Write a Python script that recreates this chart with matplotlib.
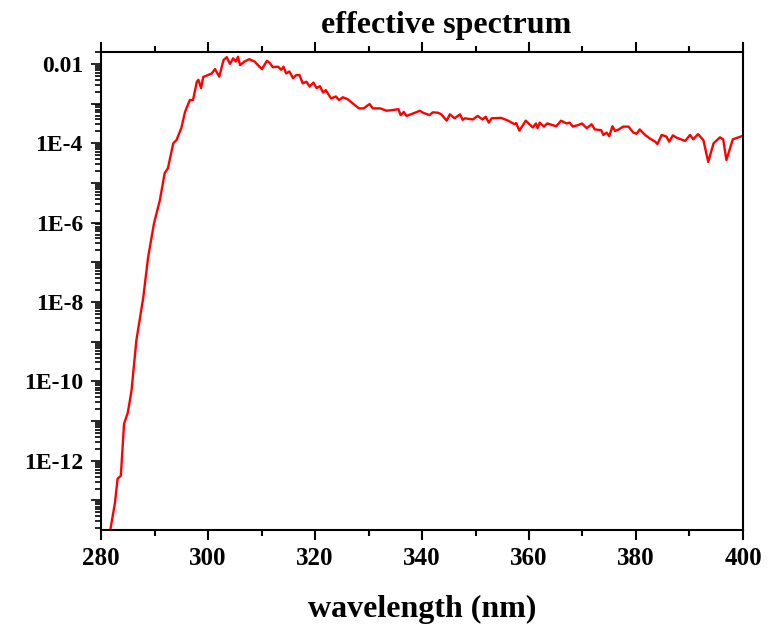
import numpy as np
import matplotlib
matplotlib.use("Agg")
import matplotlib.pyplot as plt
from matplotlib.ticker import LogLocator, FuncFormatter, MultipleLocator

# wavelength (nm) and log10 of the effective spectrum
wavelength = [281.7, 282.6, 283.1, 283.7, 284.3, 285.0, 285.7, 286.6, 287.9, 288.8,
              289.9, 291.0, 291.9, 292.5, 293.5, 294.1, 295.0, 295.7, 296.6, 297.2,
              297.9, 298.2, 298.7, 299.1, 300.7, 301.3, 302.1, 302.9, 303.5, 304.1,
              304.7, 305.2, 305.6, 306.0, 306.8, 307.7, 308.7, 309.6, 310.1, 311.0,
              311.5, 312.1, 313.1, 313.7, 314.1, 314.6, 315.2, 315.9, 316.5, 317.1,
              317.7, 318.4, 319.0, 319.7, 320.3, 320.9, 321.5, 322.0, 323.0, 323.9,
              324.5, 325.2, 326.1, 327.0, 328.2, 329.1, 330.2, 330.8, 332.2, 333.4,
              334.6, 335.6, 336.0, 336.6, 337.1, 338.3, 339.6, 340.2, 341.4, 342.0,
              343.0, 343.6, 344.6, 345.2, 346.1, 347.1, 347.6, 348.0, 349.5, 350.4,
              351.3, 351.9, 352.5, 353.0, 354.8, 356.1, 357.3, 357.6, 358.2, 359.4,
              360.7, 361.3, 361.6, 362.0, 362.8, 363.4, 365.1, 366.0, 367.0, 367.6,
              368.2, 369.2, 369.9, 370.8, 371.7, 372.3, 373.5, 373.9, 374.5, 375.0,
              375.6, 376.1, 376.8, 377.6, 378.6, 379.5, 380.1, 380.7, 381.7, 382.6,
              383.6, 384.0, 384.8, 385.7, 386.2, 386.9, 387.6, 389.2, 390.1, 390.7,
              391.6, 392.6, 393.5, 394.5, 395.7, 396.3, 396.9, 398.1, 399.8]
log_intensity = [-13.77, -13.06, -12.45, -12.38, -11.07, -10.79, -10.23, -8.97, -7.88, -6.87,
                 -6.02, -5.43, -4.75, -4.63, -4.00, -3.92, -3.62, -3.21, -2.91, -2.91,
                 -2.45, -2.40, -2.61, -2.33, -2.24, -2.13, -2.32, -1.90, -1.83, -2.00,
                 -1.86, -1.94, -1.82, -2.03, -1.94, -1.88, -1.94, -2.07, -2.13, -1.92,
                 -1.97, -2.08, -2.07, -2.15, -2.07, -2.24, -2.19, -2.36, -2.28, -2.28,
                 -2.49, -2.45, -2.57, -2.47, -2.61, -2.56, -2.72, -2.66, -2.87, -2.82,
                 -2.91, -2.84, -2.89, -2.99, -3.12, -3.12, -3.01, -3.12, -3.12, -3.18,
                 -3.16, -3.14, -3.29, -3.21, -3.31, -3.25, -3.18, -3.23, -3.29, -3.22,
                 -3.23, -3.27, -3.43, -3.27, -3.37, -3.27, -3.41, -3.37, -3.40, -3.31,
                 -3.40, -3.33, -3.48, -3.37, -3.36, -3.43, -3.52, -3.49, -3.68, -3.43,
                 -3.60, -3.50, -3.62, -3.48, -3.58, -3.50, -3.57, -3.43, -3.50, -3.48,
                 -3.58, -3.54, -3.50, -3.62, -3.52, -3.65, -3.67, -3.79, -3.73, -3.82,
                 -3.57, -3.69, -3.65, -3.58, -3.58, -3.73, -3.76, -3.65, -3.79, -3.88,
                 -3.96, -4.02, -3.79, -3.83, -3.96, -3.80, -3.86, -3.94, -3.79, -3.90,
                 -3.77, -3.92, -4.47, -4.00, -3.85, -3.90, -4.42, -3.90, -3.82]

x_ticks = [280, 300, 320, 340, 360, 380, 400]


def y_label(val, pos):
    exp = int(round(np.log10(val)))
    if exp % 2:
        return ""
    if exp == -2:
        return "0.01"
    return f"1E{exp}"


plt.rcParams['font.family'] = ['Liberation Serif', 'DejaVu Serif']
plt.rcParams['font.weight'] = 'bold'

fig = plt.figure(figsize=(7.82, 6.27), dpi=100)
ax = fig.add_axes([0.1292, 0.1547, 0.8209, 0.7624])

ax.plot(wavelength, 10 ** np.array(log_intensity), color='#ff0000', lw=1.7)

ax.set_yscale('log')
ax.set_xlim(280, 400)
ax.set_ylim(1.8e-14, 0.02)
ax.set_xticks(x_ticks)
ax.xaxis.set_minor_locator(MultipleLocator(10))
ax.yaxis.set_major_locator(LogLocator(base=10, subs=(1.0,), numticks=100))
ax.yaxis.set_minor_locator(LogLocator(base=10, subs=np.arange(2, 10), numticks=100))
ax.yaxis.set_major_formatter(FuncFormatter(y_label))
ax.yaxis.set_minor_formatter(FuncFormatter(lambda v, p: ""))

for s in ax.spines.values():
    s.set_linewidth(1.5)

ax.tick_params(axis='x', which='both', direction='out', top=True, width=1.5)
ax.tick_params(axis='x', which='major', length=7, labelsize=18, pad=5)
ax.tick_params(axis='x', which='minor', length=4)
ax.tick_params(axis='y', which='both', direction='out', right=False, width=1.2)
ax.tick_params(axis='y', which='major', length=7, labelsize=17, pad=6)
ax.tick_params(axis='y', which='minor', length=4)

# title sits a little right of the axes centre in the original
ax.set_title("effective spectrum", fontsize=23, fontweight='bold', x=0.537, pad=14)
ax.set_xlabel("wavelength (nm)", fontsize=23, fontweight='bold', labelpad=18)

fig.savefig("out.png", dpi=100)
